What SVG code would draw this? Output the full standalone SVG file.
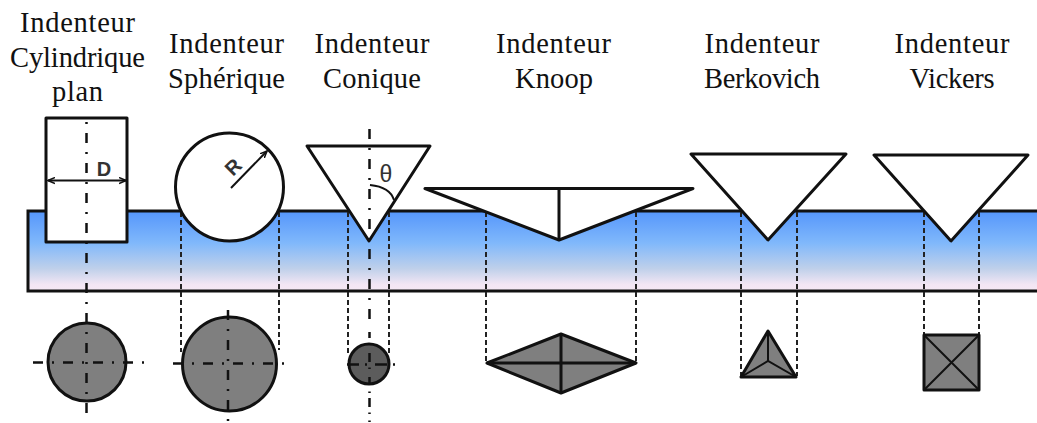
<svg xmlns="http://www.w3.org/2000/svg" width="1037" height="423" viewBox="0 0 1037 423">
<style>
text{font-family:"Liberation Serif","Times New Roman",serif;font-size:28.500px;fill:#111;text-anchor:middle}
.lbl{font-family:"Liberation Sans",Arial,sans-serif;fill:#333}
.o{fill:#fff;stroke:#111;stroke-width:3;stroke-linejoin:round}
.g{fill:#7f7f7f;stroke:#111;stroke-width:3;stroke-linejoin:round}
.l{fill:none;stroke:#111;stroke-width:2}
.t{fill:none;stroke:#111;stroke-width:3}
.da{fill:none;stroke:#222;stroke-width:2;stroke-dasharray:5 3}
.cl{fill:none;stroke:#111;stroke-width:2.500;stroke-dasharray:10 9 2 9}
.sg{fill:none;stroke:#111;stroke-width:2.500}
</style>
<defs>
<linearGradient id="grad" x1="0" y1="0" x2="0" y2="1">
<stop offset="0" stop-color="#5596fb"/>
<stop offset="0.4" stop-color="#80b8fb"/>
<stop offset="0.72" stop-color="#bfd0ea"/>
<stop offset="0.92" stop-color="#f3e6f4"/>
<stop offset="1" stop-color="#f5e8f5"/>
</linearGradient>
<marker id="ah" markerWidth="8" markerHeight="8" refX="7" refY="4" orient="auto-start-reverse" markerUnits="userSpaceOnUse">
<path d="M0 1L7 4L0 7" fill="none" stroke="#111" stroke-width="1.500"/>
</marker>
</defs>
<g id="substrate">
<rect x="28" y="211" width="1012" height="80" fill="url(#grad)" stroke="#111" stroke-width="3"/>
</g>
<g id="connectors">
<path class="da" d="M181 212V352M279 212V350M348 212V355M389 212V355M486 212V362M636 212V362M741 212V376M797 212V376M924 212V334M979 212V334"/>
</g>
<g id="cylindrique">
<rect class="o" x="46" y="118" width="81" height="124"/>
<circle class="g" cx="87" cy="362" r="39"/>
<path class="cl" style="stroke-dasharray:2 9 10 9" d="M86.500 122V413"/>
<path class="cl" d="M33 362.500H145"/>
<path class="l" d="M48 180.500H126" marker-start="url(#ah)" marker-end="url(#ah)"/>
<text class="lbl" x="104" y="176" style="font-size:20px;font-weight:bold">D</text>
<text x="77.500" y="32" textLength="115" lengthAdjust="spacing">Indenteur</text>
<text x="77.500" y="67" textLength="135" lengthAdjust="spacing">Cylindrique</text>
<text x="77.500" y="101" textLength="51" lengthAdjust="spacing">plan</text>
</g>
<g id="spherique">
<circle class="o" cx="229.500" cy="187" r="54"/>
<circle class="g" cx="229.500" cy="364" r="47"/>
<path class="cl" d="M228 310V421"/>
<path class="cl" d="M173 363.500H286"/>
<path class="l" d="M231 188L267 151" marker-end="url(#ah)"/>
<text class="lbl" transform="translate(238 172) rotate(-45)" style="font-size:20px;font-weight:bold">R</text>
<text x="226.500" y="53" textLength="115" lengthAdjust="spacing">Indenteur</text>
<text x="226.500" y="88" textLength="117" lengthAdjust="spacing">Sphérique</text>
</g>
<g id="conique">
<path class="o" d="M307 146H430L369 241Z"/>
<circle cx="369" cy="364" r="20" fill="#5c5c5c" stroke="#111" stroke-width="3"/>
<path class="cl" d="M369.500 129V326"/>
<path class="sg" d="M369.500 332V338M369.500 343V344.500M369.500 353V362M369.500 367.500V369M369.500 377V384M369.500 391.500V393M369.500 398V407M369.500 412.500V414M369.500 420.500V422"/>
<path class="cl" style="stroke-dasharray:12 6 2 8" d="M347 364.500H396"/>
<path class="l" d="M370 185Q390 187 394 200"/>
<text class="lbl" x="386" y="182" style="font-size:23px">θ</text>
<text x="372" y="53" textLength="115" lengthAdjust="spacing">Indenteur</text>
<text x="372" y="88" textLength="98" lengthAdjust="spacing">Conique</text>
</g>
<g id="knoop">
<path class="o" d="M425 188.500H693L559 240Z"/>
<path class="t" d="M559 188V240"/>
<path class="g" d="M487 363L561 334L636 363L561 393Z"/>
<path class="t" d="M487 363H636M561 334V393"/>
<text x="553.500" y="53" textLength="115" lengthAdjust="spacing">Indenteur</text>
<text x="554" y="88" textLength="78" lengthAdjust="spacing">Knoop</text>
</g>
<g id="berkovich">
<path class="o" d="M691 154H846L768 240Z"/>
<path class="g" d="M741 377L768 331L796 377Z"/>
<path class="l" d="M768 331V361M741 377L768 361L796 377"/>
<text x="762" y="53" textLength="115" lengthAdjust="spacing">Indenteur</text>
<text x="762" y="88" textLength="116" lengthAdjust="spacing">Berkovich</text>
</g>
<g id="vickers">
<path class="o" d="M874 155H1028L951 241Z"/>
<rect class="g" x="924" y="335" width="55" height="55"/>
<path class="l" d="M924 335L979 390M979 335L924 390"/>
<text x="952" y="53" textLength="115" lengthAdjust="spacing">Indenteur</text>
<text x="952" y="88" textLength="85" lengthAdjust="spacing">Vickers</text>
</g>
</svg>
